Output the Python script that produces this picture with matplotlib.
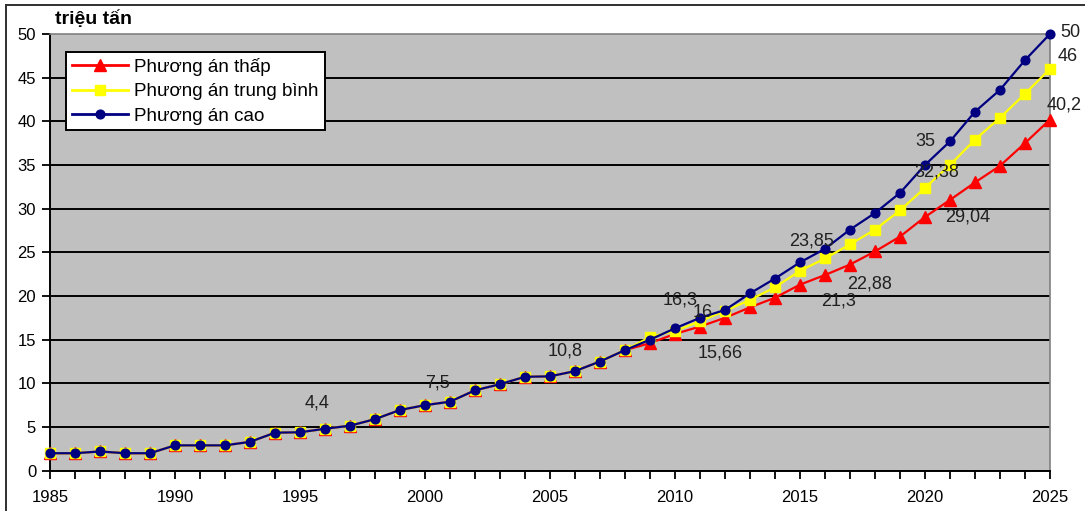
import matplotlib.pyplot as plt
from matplotlib.lines import Line2D

plt.rcParams['font.family'] = ['Liberation Sans', 'DejaVu Sans']

years = list(range(1985, 2026))

# sản lượng theo 3 phương án (triệu tấn)
high = [2.0, 2.0, 2.2, 2.0, 2.0, 2.9, 2.9, 2.9, 3.3, 4.35, 4.4, 4.8, 5.15, 5.9, 6.95,
        7.5, 7.9, 9.2, 9.9, 10.75, 10.8, 11.4, 12.5, 13.8, 15.0,
        16.3, 17.5, 18.4, 20.3, 22.0, 23.85, 25.4, 27.6, 29.5, 31.8,
        35.0, 37.7, 41.1, 43.6, 47.0, 50.0]
medium = [2.0, 2.0, 2.2, 2.0, 2.0, 2.9, 2.9, 2.9, 3.3, 4.35, 4.4, 4.8, 5.15, 5.9, 6.95,
          7.5, 7.9, 9.2, 9.9, 10.75, 10.8, 11.4, 12.5, 13.8, 15.3,
          16.0, 17.1, 18.3, 19.55, 21.0, 22.88, 24.3, 25.9, 27.6, 29.8,
          32.38, 35.0, 37.9, 40.4, 43.15, 46.0]
low = [2.0, 2.0, 2.2, 2.0, 2.0, 2.9, 2.9, 2.9, 3.3, 4.35, 4.4, 4.8, 5.15, 5.9, 6.95,
       7.5, 7.9, 9.2, 9.9, 10.75, 10.8, 11.4, 12.5, 13.8, 14.6,
       15.66, 16.5, 17.5, 18.7, 19.8, 21.3, 22.4, 23.6, 25.1, 26.8,
       29.04, 31.0, 33.0, 34.9, 37.5, 40.2]

series_names = ['Phương án thấp', 'Phương án trung bình', 'Phương án cao']

# nhãn số liệu: (năm, chuỗi, dịch chuyển theo pixel)
labels = [
    (1995, 'high', (17, 29)),
    (2000, 'high', (13, 22)),
    (2005, 'high', (15, 25)),
    (2010, 'high', (5, 28)),
    (2010, 'medium', (28, 18)),
    (2010, 'low', (45, -19)),
    (2015, 'high', (12, 21)),
    (2015, 'medium', (70, -13)),
    (2015, 'low', (39, -16)),
    (2020, 'high', (0, 23)),
    (2020, 'medium', (12, 16)),
    (2020, 'low', (43, 0)),
    (2025, 'high', (20, 1)),
    (2025, 'medium', (18, 12)),
    (2025, 'low', (14, 15)),
]

fig = plt.figure(figsize=(10.85, 5.11), dpi=100)
ax = fig.add_axes([0.0461, 0.0789, 0.9216, 0.8546])
ax.set_facecolor('#C0C0C0')

ax.plot(years, low, color='#FF0000', lw=1.6, marker='^', ms=8.5, zorder=3, clip_on=False)
ax.plot(years, medium, color='#FFFF00', lw=1.6, marker='s', ms=7, zorder=4, clip_on=False)
ax.plot(years, high, color='#000080', lw=1.6, marker='o', ms=6.3, zorder=5, clip_on=False)

data = {'high': high, 'medium': medium, 'low': low}
for yr, key, off in labels:
    v = data[key][years.index(yr)]
    txt = f'{v:g}'.replace('.', ',')
    ax.annotate(txt, (yr, v), xytext=off, textcoords='offset pixels',
                ha='center', va='center', fontsize=13, color='#202020', zorder=6)

ax.set_xlim(1985, 2025)
ax.set_ylim(0, 50)
ax.set_yticks(range(0, 51, 5))
ax.set_xticks(range(1985, 2026, 5))
ax.set_xticks(years, minor=True)
ax.tick_params(axis='both', which='both', direction='out', length=6, width=1.3,
               color='black', labelsize=12)
ax.tick_params(axis='x', pad=8)
ax.tick_params(axis='y', pad=4)

ax.grid(axis='y', color='black', lw=1.4, zorder=1)
ax.get_ygridlines()[-1].set_visible(False)
ax.set_axisbelow(True)

for side in ['left', 'bottom']:
    ax.spines[side].set_color('black')
    ax.spines[side].set_linewidth(1.4)
for side in ['right', 'top']:
    ax.spines[side].set_color('#808080')
    ax.spines[side].set_linewidth(1.2)

handles = [
    Line2D([], [], color='#FF0000', lw=2, marker='^', ms=8),
    Line2D([], [], color='#FFFF00', lw=2, marker='s', ms=7),
    Line2D([], [], color='#000080', lw=2, marker='o', ms=6.3),
]
leg = ax.legend(handles, series_names, loc='upper left', bbox_to_anchor=(0.016, 0.959),
                fontsize=13.5, handlelength=3.0, fancybox=False, framealpha=1,
                edgecolor='black', borderpad=0.3, labelspacing=0.4, handletextpad=0.35,
                borderaxespad=0)
leg.get_frame().set_linewidth(1.4)
leg.set_zorder(7)

fig.text(0.051, 0.963, 'triệu tấn', fontsize=14, fontweight='bold', ha='left', va='center')

# khung ngoài (trên và trái)
fig.add_artist(Line2D([0.0055, 1.0], [0.99, 0.99], color='#303030', lw=1.4,
                      transform=fig.transFigure))
fig.add_artist(Line2D([0.0055, 0.0055], [0.0, 0.99], color='#303030', lw=1.4,
                      transform=fig.transFigure))

fig.savefig('out.png', dpi=100)
